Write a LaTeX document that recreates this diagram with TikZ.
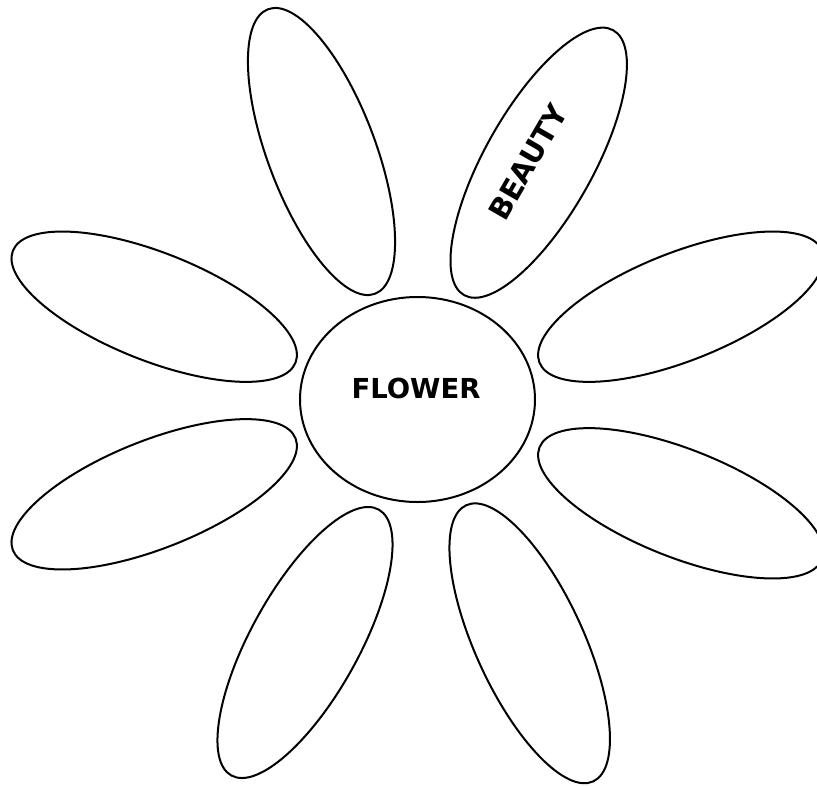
\documentclass[tikz,border=0pt]{standalone}
\usepackage{fontspec}
\setmainfont{DejaVu Sans}
\usetikzlibrary{shapes.geometric}
\tikzset{
  outline/.style={draw=black, line width=2pt, ellipse, inner sep=0pt, outer sep=0pt},
  petal/.style={outline, minimum width=304pt, minimum height=108pt},
  heart/.style={outline, minimum width=235pt, minimum height=205pt},
  word/.style={font=\bfseries\fontsize{27.5}{33}\selectfont, inner sep=0pt, text=black}
}
\begin{document}
\begin{tikzpicture}[x=1pt, y=-1pt]
  \useasboundingbox (0,0) rectangle (817,785);
  \clip (0,0) rectangle (817,785);
  \node[heart] (centre) at (417.5,399.5) {};
  \node[word] (flower) at (416,388) {FLOWER};
  \node[petal, rotate=110.6] (p1) at (321.5,151.5) {};
  \node[petal, rotate=60.6]  (p2) at (538.7,162.7) {};
  \node[petal, rotate=-21.6] (p3) at (154.2,306.7) {};
  \node[petal, rotate=21.6]  (p4) at (680.8,306.7) {};
  \node[petal, rotate=21.6]  (p5) at (154.2,494.3) {};
  \node[petal, rotate=-21.6] (p6) at (680.8,503.3) {};
  \node[petal, rotate=61]    (p7) at (305,642.5) {};
  \node[petal, rotate=114.7] (p8) at (529.7,643.3) {};
  \node[word, font=\bfseries\fontsize{29}{35}\selectfont, rotate=60] (beauty) at (528,162) {BEAUTY};
\end{tikzpicture}
\end{document}
